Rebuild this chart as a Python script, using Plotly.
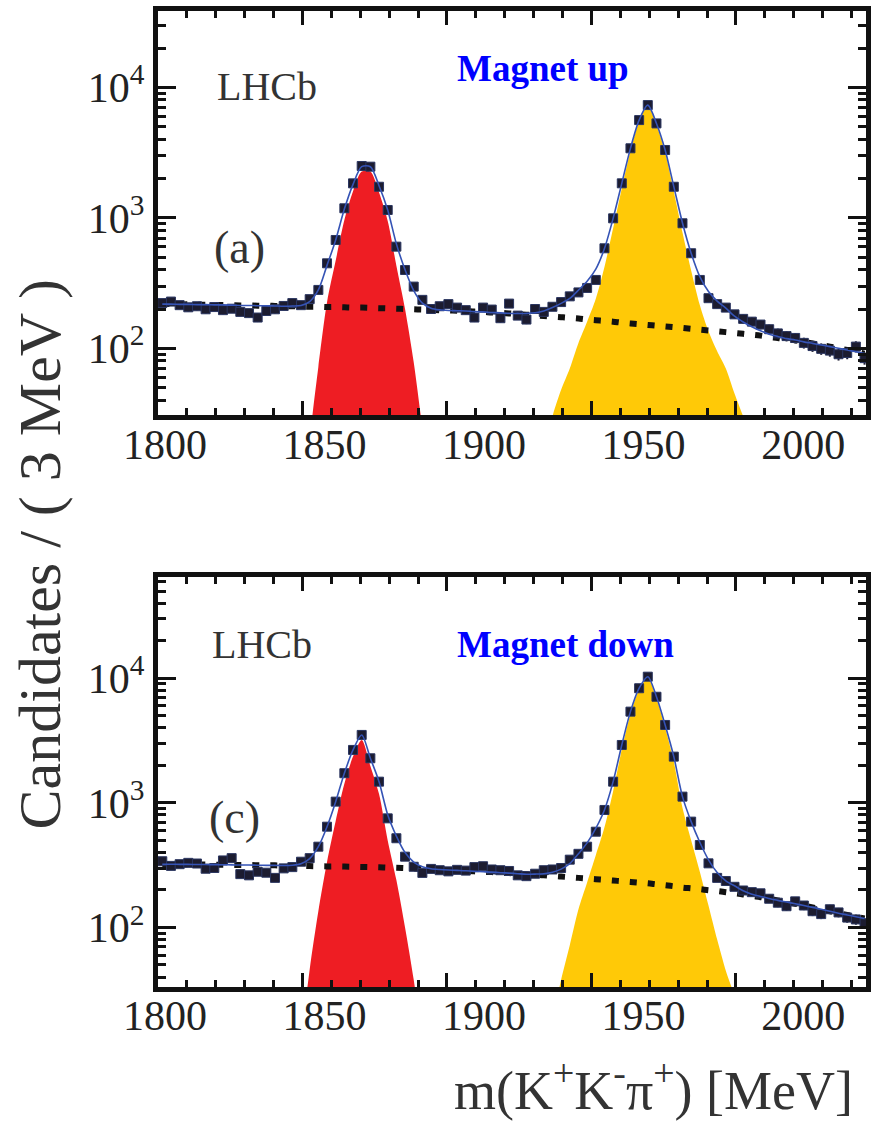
import plotly.graph_objects as go

# ---------------------------------------------------------------------------
# m(K+K-pi+) spectra, 3 MeV bins from 1800 MeV
# ---------------------------------------------------------------------------
BIN_WIDTH = 3.0
N_BINS = 82
MASS = [1801.5 + BIN_WIDTH * i for i in range(N_BINS)]

# Magnet up, panel (a)
UP_DATA = [
    222, 228, 214, 206, 210, 199, 207, 196, 201, 190,
    186, 172, 193, 199, 211, 222, 214, 238, 280, 448,
    676, 1183, 1837, 2495, 2465, 1730, 1148, 601, 398, 297,
    235, 200, 210, 218, 205, 196, 172, 205, 198, 170,
    220, 178, 166, 200, 190, 208, 226, 250, 268, 290,
    334, 584, 991, 1838, 3410, 5610, 7310, 5290, 3310, 1730,
    908, 535, 334, 242, 218, 205, 182, 168, 160, 152,
    140, 130, 124, 120, 110, 104, 99, 96, 90, 92,
    103, 84,
]
UP_BKG = [
    218, 218, 217, 217, 216, 216, 215, 215, 214, 213,
    213, 212, 212, 211, 210, 210, 209, 208, 208, 207,
    207, 206, 205, 205, 204, 203, 202, 201, 200, 199,
    198, 197, 196, 195, 194, 193, 191, 190, 188, 187,
    185, 183, 181, 179, 177, 175, 173, 171, 169, 166,
    164, 162, 160, 157, 155, 153, 151, 149, 147, 145,
    143, 141, 139, 137, 135, 133, 131, 129, 127, 125,
    122, 120, 117, 115, 112, 109, 106, 103, 100, 97,
    94, 91,
]
UP_DPLUS = [
    0, 0, 0, 0, 0, 0, 0, 0, 0, 0,
    0, 0, 0, 0, 0, 0.8, 4, 20, 72, 225,
    470, 960, 1600, 2260, 2260, 1560, 945, 430, 200, 78,
    24, 6, 1.2, 0, 0, 0, 0, 0, 0, 0,
    0, 0, 0, 0, 0, 0, 0, 0, 0, 0,
    0, 0, 0, 0, 0, 0, 0, 0, 0, 0,
    0, 0, 0, 0, 0, 0, 0, 0, 0, 0,
    0, 0, 0, 0, 0, 0, 0, 0, 0, 0,
    0, 0,
]
UP_DS = [
    0, 0, 0, 0, 0, 0, 0, 0, 0, 0,
    0, 0, 0, 0, 0, 0, 0, 0, 0, 0,
    0, 0, 0, 0, 0, 0, 0, 0, 0, 0,
    0, 0, 0, 0, 0, 0, 0, 0, 0, 0,
    0, 2, 4, 8, 16, 30, 48, 70, 110, 160,
    240, 420, 830, 1680, 3250, 5450, 7150, 5140, 3160, 1590,
    770, 395, 215, 135, 95, 70, 45, 30, 19, 11,
    6, 3, 1.5, 0.7, 0, 0, 0, 0, 0, 0,
    0, 0,
]

# Magnet down, panel (c)
DOWN_DATA = [
    340, 312, 322, 330, 326, 296, 300, 345, 360, 268,
    262, 280, 275, 250, 298, 305, 337, 360, 445, 644,
    1023, 1730, 2660, 3510, 2280, 1480, 751, 520, 370, 307,
    274, 295, 288, 282, 290, 286, 305, 310, 292, 288,
    284, 262, 258, 270, 288, 292, 300, 350, 390, 445,
    587, 877, 1480, 2915, 5400, 8320, 10300, 7110, 4220, 2350,
    1122, 707, 459, 327, 250, 236, 212, 198, 192, 188,
    170, 158, 148, 162, 150, 135, 128, 140, 132, 120,
    116, 108,
]
DOWN_BKG = [
    322, 322, 321, 321, 320, 320, 319, 319, 318, 317,
    317, 316, 315, 315, 314, 313, 312, 311, 310, 309,
    309, 308, 307, 306, 305, 304, 302, 301, 299, 297,
    295, 293, 291, 289, 287, 285, 282, 280, 278, 275,
    273, 270, 267, 265, 262, 259, 256, 253, 250, 247,
    244, 241, 238, 235, 232, 229, 226, 222, 218, 214,
    209, 206, 203, 199, 196, 192, 188, 184, 179, 175,
    170, 165, 160, 155, 150, 145, 140, 135, 130, 126,
    122, 118,
]
DOWN_DPLUS = [
    0, 0, 0, 0, 0, 0, 0, 0, 0, 0,
    0, 0, 0, 0, 0, 2.5, 12, 46, 135, 335,
    714, 1422, 2353, 3203, 1976, 1176, 500, 240, 100, 38,
    12, 3, 0.6, 0, 0, 0, 0, 0, 0, 0,
    0, 0, 0, 0, 0, 0, 0, 0, 0, 0,
    0, 0, 0, 0, 0, 0, 0, 0, 0, 0,
    0, 0, 0, 0, 0, 0, 0, 0, 0, 0,
    0, 0, 0, 0, 0, 0, 0, 0, 0, 0,
    0, 0,
]
DOWN_DS = [
    0, 0, 0, 0, 0, 0, 0, 0, 0, 0,
    0, 0, 0, 0, 0, 0, 0, 0, 0, 0,
    0, 0, 0, 0, 0, 0, 0, 0, 0, 0,
    0, 0, 0, 0, 0, 0, 0, 0, 0, 0,
    0, 0, 0, 3, 8, 18, 38, 72, 140, 230,
    380, 636, 1242, 2680, 5168, 8095, 10074, 6888, 4002, 2136,
    913, 501, 280, 150, 80, 45, 28, 13, 6, 2.5,
    1, 0, 0, 0, 0, 0, 0, 0, 0, 0,
    0, 0,
]

X_TICKS = [1800, 1850, 1900, 1950, 2000]
Y_TICKS = [100, 1000, 10000]
Y_TICK_TEXT = ["10<sup>2</sup>", "10<sup>3</sup>", "10<sup>4</sup>"]

# ---------------------------------------------------------------------------
SERIF = "Liberation Serif, Times New Roman, Times, serif"
INK = "#111111"
RED = "#EE1D23"
YELLOW = "#FFC907"
MARKER = "#1c1c30"
FIT_BLUE = "#3553b5"

x_minor = [m for m in range(1810, 2045, 10) if m % 50 != 0]
y_minor = [d * 10 ** e for e in (1, 2, 3, 4) for d in range(2, 10)]


def signal_fill(values, color, xa, ya):
    xs = [m for m, v in zip(MASS, values) if v > 0]
    ys = [v for v in values if v > 0]
    floor = 0.5
    return go.Scatter(
        x=[xs[0]] + xs + [xs[-1]], y=[floor] + ys + [floor],
        mode="lines", fill="toself", fillcolor=color,
        line=dict(width=0, color=color, shape="spline", smoothing=0.8),
        xaxis=xa, yaxis=ya, hoverinfo="skip",
    )


def panel_traces(data, bkg, dplus, ds, xa, ya):
    fit = [b + s1 + s2 for b, s1, s2 in zip(bkg, dplus, ds)]
    err = [v ** 0.5 for v in data]
    return [
        signal_fill(dplus, RED, xa, ya),
        signal_fill(ds, YELLOW, xa, ya),
        go.Scatter(x=MASS, y=bkg, mode="lines", xaxis=xa, yaxis=ya,
                   line=dict(color=INK, width=6, dash="7px,11px", shape="spline")),
        go.Scatter(x=MASS, y=data, mode="markers", xaxis=xa, yaxis=ya,
                   marker=dict(symbol="square", size=9, color=MARKER,
                               line=dict(width=1, color="#2a3560")),
                   error_y=dict(type="data", array=err, color=MARKER,
                                thickness=2, width=0)),
        go.Scatter(x=MASS, y=fit, mode="lines", xaxis=xa, yaxis=ya,
                   line=dict(color=FIT_BLUE, width=1.6, shape="spline", smoothing=0.8)),
    ]


fig = go.Figure()
for tr in panel_traces(UP_DATA, UP_BKG, UP_DPLUS, UP_DS, "x", "y"):
    fig.add_trace(tr)
for tr in panel_traces(DOWN_DATA, DOWN_BKG, DOWN_DPLUS, DOWN_DS, "x2", "y2"):
    fig.add_trace(tr)

# empty carriers so the label axes below get drawn
for xa, ya in (("x3", "y"), ("x4", "y2")):
    fig.add_trace(go.Scatter(x=X_TICKS, y=[None] * len(X_TICKS), mode="markers",
                             xaxis=xa, yaxis=ya, hoverinfo="skip"))

X_DOMAIN = [0.1797, 0.9852]
frame = dict(showline=True, linewidth=5, linecolor=INK, mirror="ticks",
             ticks="inside", tickcolor=INK, tickwidth=2.5,
             showgrid=False, zeroline=False, automargin=False)
tick_font = dict(family=SERIF, size=42, color="#222222")


def x_axis(anchor):
    return dict(frame, domain=X_DOMAIN, range=[1800, 2045],
                tickvals=X_TICKS, ticklen=14, showticklabels=False,
                minor=dict(tickvals=x_minor, ticks="inside", ticklen=7,
                           tickwidth=2.5, tickcolor=INK),
                anchor=anchor)


def x_label_axis(over, position):
    # the mass labels under each frame run on a slightly wider scale
    return dict(overlaying=over, anchor="free", position=position,
                domain=X_DOMAIN, range=[1797.8, 2019.7],
                tickvals=X_TICKS, ticks="", showline=False, showgrid=False,
                zeroline=False, automargin=False, tickfont=tick_font)


def y_axis(domain, rng, anchor):
    return dict(frame, type="log", domain=domain, range=rng,
                tickvals=Y_TICKS, ticktext=Y_TICK_TEXT, ticklen=18,
                tickfont=tick_font,
                minor=dict(tickvals=y_minor, ticks="inside", ticklen=8,
                           tickwidth=2.5, tickcolor=INK),
                anchor=anchor)


fig.update_layout(
    template="none",
    width=879, height=1123, margin=dict(l=0, r=0, t=0, b=0, pad=0),
    paper_bgcolor="white", plot_bgcolor="white", showlegend=False,
    font=dict(family=SERIF),
    xaxis=x_axis("y"),
    yaxis=y_axis([0.6305, 0.9902], [1.489, 4.585], "x"),
    xaxis2=x_axis("y2"),
    yaxis2=y_axis([0.1211, 0.4862], [1.522, 4.813], "x2"),
    xaxis3=x_label_axis("x", 0.6296),
    xaxis4=x_label_axis("x2", 0.1215),
)

label = dict(family=SERIF, color="#333333")
notes = [
    dict(text="LHCb", x=0.304, y=0.9234, font=dict(label, size=40)),
    dict(text="(a)", x=0.273, y=0.780, font=dict(label, size=46)),
    dict(text="<b>Magnet up</b>", x=0.5176, y=0.9394, xanchor="left",
         font=dict(family=SERIF, size=37, color="#0000ff")),
    dict(text="LHCb", x=0.298, y=0.4257, font=dict(label, size=40)),
    dict(text="(c)", x=0.267, y=0.2716, font=dict(label, size=46)),
    dict(text="<b>Magnet down</b>", x=0.5176, y=0.4265, xanchor="left",
         font=dict(family=SERIF, size=37, color="#0000ff")),
    dict(text="Candidates / ( 3 MeV )", x=0.046, y=0.5067, textangle=-90,
         font=dict(family=SERIF, size=60, color="#333333")),
    dict(text="m(K<sup>+</sup>K<sup>-</sup>\u03c0<sup>+</sup>) [MeV]",
         x=0.9727, y=0.0, xanchor="right", yanchor="bottom",
         font=dict(family=SERIF, size=54, color="#333333")),
]
for n in notes:
    n.setdefault("xanchor", "center")
    n.setdefault("yanchor", "middle")
    fig.add_annotation(xref="paper", yref="paper", showarrow=False, **n)

fig.write_html("out.html")
